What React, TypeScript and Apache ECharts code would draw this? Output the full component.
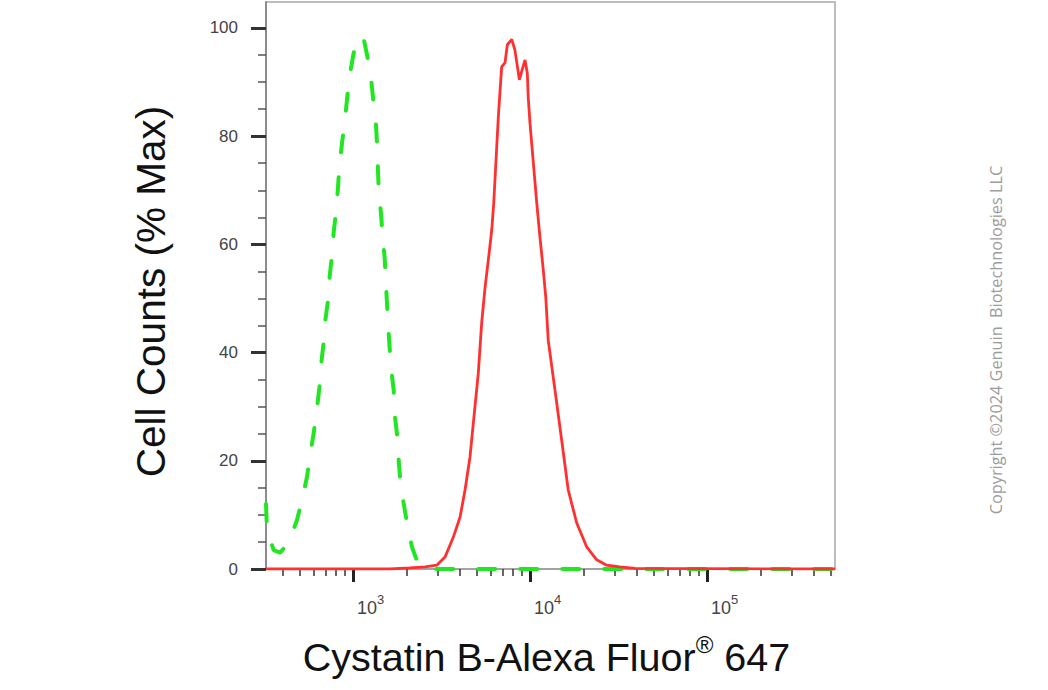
import React, { useEffect, useRef } from "react";
import * as echarts from "echarts";

// ---- Data (x in log10 fluorescence intensity, y in % of max) ----
const greenLogIntensity = [
  2.5085, 2.514, 2.552, 2.588, 2.621, 2.646, 2.684, 2.716, 2.74, 2.759, 2.778,
  2.797, 2.81, 2.821, 2.834, 2.844, 2.859, 2.868, 2.881, 2.891, 2.904, 2.915,
  2.923, 2.938, 2.953, 2.966, 2.979, 3.004, 3.028, 3.045, 3.062, 3.085, 3.103,
  3.117, 3.13, 3.137, 3.141, 3.146, 3.158, 3.168, 3.179, 3.186, 3.192, 3.199,
  3.207, 3.216, 3.23, 3.236, 3.249, 3.258, 3.267, 3.286, 3.305, 3.333, 3.356,
  3.38, 3.407, 4.0, 5.0, 5.7232,
];
const greenPercentMax = [
  12.0, 7.2, 3.5, 3.0, 4.3, 5.7, 9.1, 13.3, 17.0, 21.4, 25.1, 29.8, 33.5, 38.1,
  41.8, 46.0, 49.7, 54.0, 58.0, 62.3, 66.0, 70.4, 74.3, 78.7, 82.6, 86.7, 90.8,
  95.4, 97.8, 98.6, 97.8, 94.1, 90.4, 85.8, 82.1, 77.8, 73.8, 69.5, 65.8, 61.2,
  57.5, 52.9, 49.2, 44.7, 41.0, 36.8, 33.1, 28.5, 24.8, 20.1, 16.5, 12.2, 8.5,
  4.1, 2.0, 0.7, 0, 0, 0, 0,
];

const redLogIntensity = [
  2.5085, 3.209, 3.322, 3.407, 3.473, 3.52, 3.567, 3.605, 3.633, 3.661, 3.68,
  3.708, 3.727, 3.746, 3.766, 3.784, 3.795, 3.804, 3.812, 3.821, 3.831, 3.84,
  3.859, 3.872, 3.897, 3.915, 3.94, 3.955, 3.972, 3.985, 3.99, 4.0, 4.019,
  4.038, 4.056, 4.075, 4.089, 4.103, 4.141, 4.179, 4.216, 4.264, 4.32, 4.377,
  4.433, 4.508, 4.593, 5.7232,
];
const redPercentMax = [
  0, 0, 0.2, 0.4, 0.7, 2.2, 5.9, 9.6, 14.6, 20.7, 27.0, 36.2, 45.5, 52.0, 57.5,
  62.7, 67.6, 73.1, 78.0, 83.5, 88.5, 92.8, 93.6, 96.9, 97.9, 95.9, 90.4, 92.2,
  94.1, 91.6, 87.2, 82.4, 75.0, 67.7, 61.4, 55.3, 50.3, 42.3, 33.1, 23.8, 14.6,
  8.5, 4.1, 1.7, 0.7, 0.4, 0.1, 0,
];

// ---- Axis ticks ----
const xLogMin = 2.5085;
const xLogMax = 5.7232;
const majorDecades = [3, 4, 5];
const minorTickIntensities = [
  400, 500, 600, 700, 800, 900, 2000, 3000, 4000, 5000, 6000, 7000, 8000, 9000,
  20000, 30000, 40000, 50000, 60000, 70000, 80000, 90000, 200000, 300000,
  400000, 500000,
];
const yTickValues = [0, 20, 40, 60, 80, 100];
const yMax = 104.8;

const xTitle = "Cystatin B-Alexa Fluor";
const yTitle = "Cell Counts (% Max)";
const watermark = "Copyright \u00A92024 Genuin  Biotechnologies LLC";

const FONT = '"Liberation Sans", Arial, Helvetica, sans-serif';

export default function App() {
  const ref = useRef<HTMLDivElement>(null);

  useEffect(() => {
    if (!ref.current) return;
    const chart = echarts.init(ref.current, null, { renderer: "svg" });

    const greenData = greenLogIntensity.map((x, i) => [x, greenPercentMax[i]]);
    const redData = redLogIntensity.map((x, i) => [x, redPercentMax[i]]);

    chart.setOption({
      animation: false,
      backgroundColor: "#ffffff",
      grid: {
        left: 266,
        right: 213,
        top: 2,
        bottom: 121,
        show: true,
        borderColor: "#a8a8a8",
        borderWidth: 1.5,
        backgroundColor: "transparent",
      },
      xAxis: [
        {
          type: "value",
          position: "bottom",
          min: xLogMin,
          max: xLogMax,
          splitLine: { show: false },
          axisLine: { show: true, lineStyle: { color: "#9a9a9a", width: 1.5 } },
          axisTick: {
            show: true,
            customValues: majorDecades,
            length: 13,
            lineStyle: { color: "#222", width: 3 },
          },
          axisLabel: {
            show: true,
            customValues: majorDecades,
            align: "left",
            padding: [0, 0, 0, 4],
            margin: 24,
            formatter: (v: number) => `{b|10}{s|${Math.round(v)}}`,
            rich: {
              b: { fontSize: 18, color: "#444", fontFamily: FONT, lineHeight: 24, verticalAlign: "bottom" },
              s: { fontSize: 13, color: "#444", fontFamily: FONT, lineHeight: 24, verticalAlign: "top" },
            },
          },
          name: `{t|${xTitle}}{r|\u00AE}{t| 647}`,
          nameLocation: "middle",
          nameGap: 62,
          nameTextStyle: {
            padding: [0, 8, 0, 0],
            rich: {
              t: { fontSize: 39.5, color: "#111", fontFamily: FONT, lineHeight: 46, verticalAlign: "bottom" },
              r: { fontSize: 24, color: "#111", fontFamily: FONT, lineHeight: 46, verticalAlign: "top", padding: [1, 0, 0, 0] },
            },
          },
        },
        {
          type: "value",
          position: "bottom",
          min: xLogMin,
          max: xLogMax,
          splitLine: { show: false },
          axisLine: { show: false },
          axisTick: {
            show: true,
            customValues: minorTickIntensities.map((v) => Math.log10(v)),
            length: 7,
            lineStyle: { color: "#333", width: 1.5 },
          },
          axisLabel: { show: false },
        },
      ],
      yAxis: {
        type: "value",
        min: 0,
        max: yMax,
        interval: 20,
        splitLine: { show: false },
        axisLine: { show: true, lineStyle: { color: "#8c8c8c", width: 2 } },
        axisTick: {
          show: true,
          customValues: yTickValues,
          length: 15,
          lineStyle: { color: "#333", width: 3 },
        },
        minorTick: {
          show: true,
          splitNumber: 4,
          length: 8,
          lineStyle: { color: "#555", width: 1.5 },
        },
        axisLabel: {
          customValues: yTickValues,
          fontSize: 17,
          color: "#444",
          fontFamily: FONT,
          margin: 28,
        },
        name: yTitle,
        nameLocation: "middle",
        nameGap: 95,
        nameTextStyle: { fontSize: 40.5, color: "#111", fontFamily: FONT, padding: [0, 12, 0, 0] },
      },
      graphic: [
        {
          type: "text",
          x: 996,
          y: 340,
          rotation: Math.PI / 2,
          style: {
            text: watermark,
            fill: "#9c9c9c",
            fontSize: 16.3,
            fontFamily: '"Open Sans", "Noto Sans", sans-serif',
            align: "center",
            verticalAlign: "middle",
          },
        },
      ],
      series: [
        {
          name: "Isotype control",
          type: "line",
          xAxisIndex: 0,
          data: greenData,
          showSymbol: false,
          symbol: "none",
          lineStyle: { color: "#22e622", width: 4, type: [17, 25], cap: "round" },
          z: 2,
        },
        {
          name: "Cystatin B",
          type: "line",
          xAxisIndex: 0,
          data: redData,
          showSymbol: false,
          symbol: "none",
          lineStyle: { color: "#ff3030", width: 2.8 },
          z: 3,
        },
      ],
    });

    return () => chart.dispose();
  }, []);

  return (
    <div
      ref={ref}
      style={{ position: "absolute", left: 0, top: 0, width: 1048, height: 690, background: "#fff" }}
    />
  );
}
